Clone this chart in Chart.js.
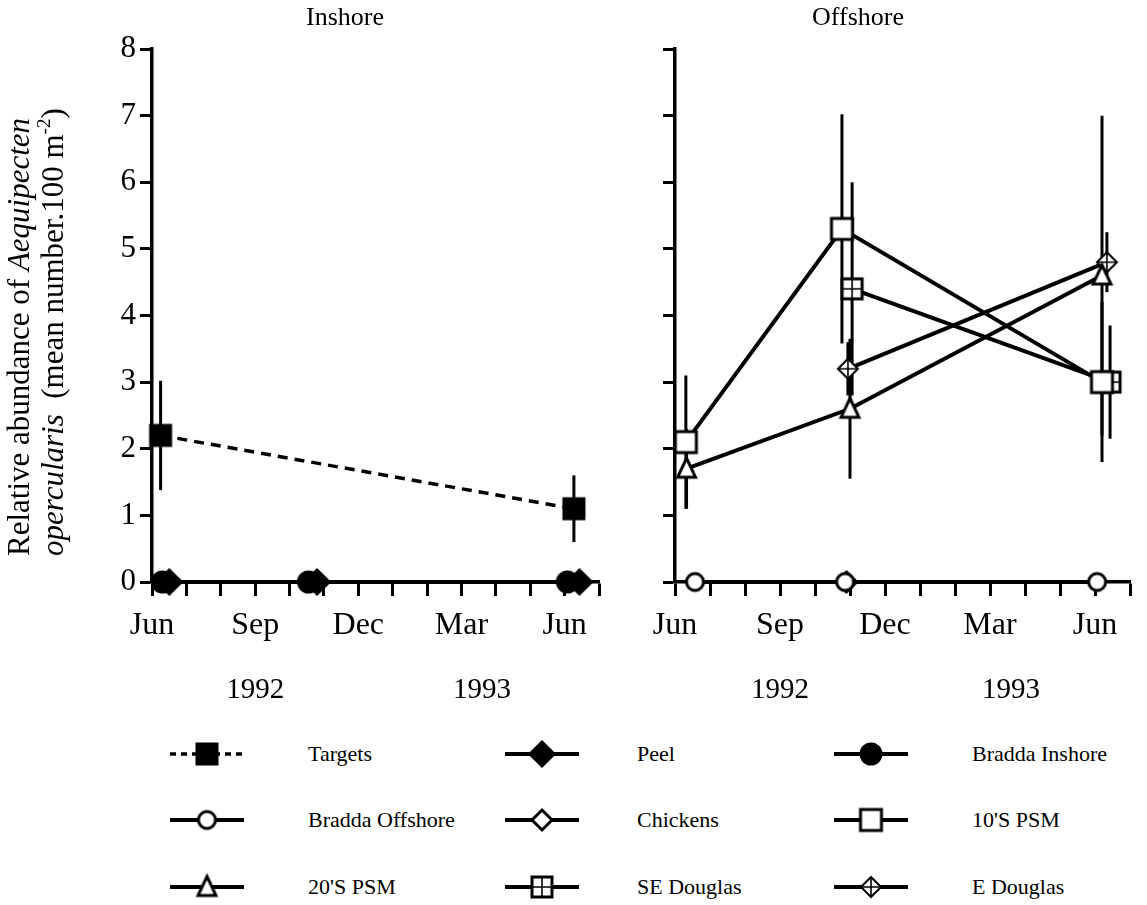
<!DOCTYPE html>
<html>
<head>
<meta charset="utf-8">
<title>Aequipecten opercularis abundance</title>
<script src="https://cdn.jsdelivr.net/npm/chart.js@4.4.1/dist/chart.umd.min.js"></script>
<style>
  html, body { margin: 0; padding: 0; background: #fff; }
  #page { position: relative; width: 1147px; height: 905px; overflow: hidden;
          font-family: 'Liberation Serif', 'Times New Roman', serif; color: #000; }
  #inshoreChart { position: absolute; left: 0; top: 0; }
  #offshoreChart { position: absolute; left: 610px; top: 0; }
  .leg-icon { position: absolute; }
  .leg-text { position: absolute; font-size: 22px; line-height: 26px; white-space: nowrap; }
</style>
</head>
<body>
<div id="page">
  <canvas id="inshoreChart" width="615" height="720"></canvas>
  <canvas id="offshoreChart" width="537" height="720"></canvas>
  <div id="legend"></div>
</div>
<script>
// ---- axis labels ----
// one entry per month tick, Jun 1992 (0) .. Jul 1993 (13)
const monthTickLabels = ['Jun', '', '', 'Sep', '', '', 'Dec', '', '', 'Mar', '', '', 'Jun', ''];
const yearLabels = ['1992', '1993'];
const yearPositions = [3, 9.6];
const abundanceTicks = [0, 1, 2, 3, 4, 5, 6, 7, 8];

// ---- inshore sites (x = months since Jun 1992) ----
const targetsMonths = [0.25, 12.27];
const targetsMean = [2.2, 1.1];
const targetsSE = [0.82, 0.5];

const peelMonths = [0.5, 4.8, 12.43];
const peelMean = [0, 0, 0];

const braddaInMonths = [0.3, 4.55, 12.08];
const braddaInMean = [0, 0, 0];

// ---- offshore sites ----
const braddaOffMonths = [0.57, 4.86, 12.06];
const braddaOffMean = [0, 0, 0];

const chickensMonths = [4.9];
const chickensMean = [0];

const psm10Months = [0.31, 4.77, 12.2];
const psm10Mean = [2.1, 5.3, 3.0];
const psm10SE = [1.0, 1.72, 1.2];

const psm20Months = [0.33, 5.0, 12.2];
const psm20Mean = [1.7, 2.6, 4.6];
const psm20SE = [0.6, 1.05, 2.4];

const seDouglasMonths = [5.06, 12.43];
const seDouglasMean = [4.4, 3.0];
const seDouglasSE = [1.6, 0.85];

const eDouglasMonths = [4.94, 12.34];
const eDouglasMean = [3.2, 4.8];
const eDouglasSE = [0.4, 0.45];

const FONT = "'Liberation Serif', 'Times New Roman', serif";

function pts(xs, ys) {
    return xs.map((x, i) => ({ x: x, y: ys[i] }));
}

// small canvases used as point styles (and again in the legend)
function makeMarker(shape, filled, size, border) {
    const pad = 4;
    const c = document.createElement('canvas');
    c.width = c.height = size + pad * 2;
    const ctx = c.getContext('2d');
    const m = c.width / 2, h = size / 2;
    ctx.lineWidth = border || 3;
    ctx.strokeStyle = '#000';
    ctx.fillStyle = filled ? '#000' : '#fff';
    ctx.beginPath();
    if (shape === 'square' || shape === 'squarePlus') {
        ctx.rect(m - h, m - h, size, size);
    } else if (shape === 'diamond' || shape === 'diamondPlus') {
        ctx.moveTo(m, m - h); ctx.lineTo(m + h, m); ctx.lineTo(m, m + h); ctx.lineTo(m - h, m);
        ctx.closePath();
    } else if (shape === 'circle') {
        ctx.arc(m, m, h, 0, Math.PI * 2);
    } else if (shape === 'triangle') {
        ctx.moveTo(m, m - h); ctx.lineTo(m + h * 0.85, m + h * 0.8); ctx.lineTo(m - h * 0.85, m + h * 0.8);
        ctx.closePath();
    }
    ctx.fill();
    ctx.stroke();
    if (shape === 'squarePlus' || shape === 'diamondPlus') {
        ctx.lineWidth = 1.6;
        ctx.beginPath();
        ctx.moveTo(m, m - h); ctx.lineTo(m, m + h);
        ctx.moveTo(m - h, m); ctx.lineTo(m + h, m);
        ctx.stroke();
    }
    return c;
}

const markers = {
    targets: makeMarker('square', true, 20),
    peel: makeMarker('diamond', true, 24),
    braddaIn: makeMarker('circle', true, 20),
    braddaOff: makeMarker('circle', false, 17),
    chickens: makeMarker('diamond', false, 20),
    psm10: makeMarker('square', false, 21),
    psm20: makeMarker('triangle', false, 21),
    seDouglas: makeMarker('squarePlus', false, 20),
    eDouglas: makeMarker('diamondPlus', false, 20, 2)
};

function series(label, xs, ys, marker, extra) {
    return Object.assign({
        label: label,
        data: pts(xs, ys),
        borderColor: '#000',
        borderWidth: 4,
        pointStyle: marker,
        pointRadius: 12,
        pointHoverRadius: 12,
        fill: false,
        tension: 0,
        clip: false
    }, extra || {});
}

// vertical error bars, drawn under the lines and markers
const errorBars = {
    id: 'errorBars',
    beforeDatasetsDraw(chart) {
        const ctx = chart.ctx, xs = chart.scales.x, ys = chart.scales.y;
        ctx.save();
        ctx.strokeStyle = '#000';
        ctx.lineWidth = 3;
        chart.data.datasets.forEach(ds => {
            if (!ds.errors) return;
            ds.data.forEach((p, i) => {
                const e = ds.errors[i];
                const x = xs.getPixelForValue(p.x);
                ctx.beginPath();
                ctx.moveTo(x, ys.getPixelForValue(p.y + e));
                ctx.lineTo(x, ys.getPixelForValue(p.y - e));
                ctx.stroke();
            });
        });
        ctx.restore();
    }
};

// panel title and year row under the month ticks
const panelText = {
    id: 'panelText',
    afterDraw(chart, args, opts) {
        const ctx = chart.ctx, xs = chart.scales.x;
        ctx.save();
        ctx.fillStyle = '#000';
        ctx.textAlign = 'center';
        ctx.textBaseline = 'middle';
        ctx.font = '26px ' + FONT;
        ctx.fillText(opts.title, opts.titleX, 18);
        ctx.font = '29px ' + FONT;
        yearLabels.forEach((t, i) => ctx.fillText(t, xs.getPixelForValue(yearPositions[i]), 690));
        ctx.restore();
    }
};

// rotated y axis title with italic species name and superscript
const yTitleLines = [
    [['Relative abundance of ', ''], ['Aequipecten', 'italic']],
    [['opercularis', 'italic'], ['  (mean number.100 m', ''], ['-2', 'sup'], [')', '']]
];
const yTitle = {
    id: 'yTitle',
    afterDraw(chart) {
        const ctx = chart.ctx;
        const lineX = [21, 55];
        yTitleLines.forEach((segs, li) => {
            ctx.save();
            ctx.translate(lineX[li], 556);
            ctx.rotate(-Math.PI / 2);
            ctx.fillStyle = '#000';
            ctx.textBaseline = 'middle';
            ctx.textAlign = 'left';
            let x = 0;
            segs.forEach(([t, style]) => {
                let dy = 0;
                if (style === 'italic') ctx.font = 'italic 31px ' + FONT;
                else if (style === 'sup') { ctx.font = '19px ' + FONT; dy = -10; }
                else ctx.font = '31px ' + FONT;
                ctx.fillText(t, x, dy);
                x += ctx.measureText(t).width;
            });
            ctx.restore();
        });
    }
};

function panelOptions(showYLabels, yAxisWidth, rightPad, title, titleX) {
    return {
        responsive: false,
        animation: false,
        layout: { padding: { top: 49, right: rightPad, bottom: 0, left: 0 } },
        plugins: {
            legend: { display: false },
            tooltip: { enabled: false },
            panelText: { title: title, titleX: titleX }
        },
        scales: {
            x: {
                type: 'linear',
                min: 0,
                max: 13,
                afterBuildTicks: s => { s.ticks = monthTickLabels.map((_, i) => ({ value: i })); },
                afterFit: s => { s.height = 720 - 582; },
                ticks: {
                    autoSkip: false,
                    maxRotation: 0,
                    padding: 10,
                    color: '#000',
                    font: { family: FONT, size: 32 },
                    callback: v => monthTickLabels[v]
                },
                grid: { drawOnChartArea: false, drawTicks: true, tickLength: 14, tickWidth: 3, tickColor: '#000' },
                border: { display: true, width: 3.5, color: '#000' }
            },
            y: {
                min: 0,
                max: 8,
                afterBuildTicks: s => { s.ticks = abundanceTicks.map(v => ({ value: v })); },
                afterFit: s => { s.width = yAxisWidth; },
                ticks: {
                    padding: 4,
                    color: '#000',
                    font: { family: FONT, size: 31 },
                    callback: v => showYLabels ? String(v) : ''
                },
                grid: { drawOnChartArea: false, drawTicks: true, tickLength: 12, tickWidth: 3, tickColor: '#000' },
                border: { display: true, width: 3.5, color: '#000' }
            }
        }
    };
}

new Chart(document.getElementById('inshoreChart'), {
    type: 'line',
    data: {
        datasets: [
            series('Targets', targetsMonths, targetsMean, markers.targets,
                { borderDash: [10, 7], borderWidth: 3.5, errors: targetsSE }),
            series('Peel', peelMonths, peelMean, markers.peel),
            series('Bradda Inshore', braddaInMonths, braddaInMean, markers.braddaIn)
        ]
    },
    options: panelOptions(true, 152, 14, 'Inshore', 345),
    plugins: [errorBars, panelText, yTitle]
});

new Chart(document.getElementById('offshoreChart'), {
    type: 'line',
    data: {
        datasets: [
            series('Bradda Offshore', braddaOffMonths, braddaOffMean, markers.braddaOff),
            series('Chickens', chickensMonths, chickensMean, markers.chickens),
            series("10'S PSM", psm10Months, psm10Mean, markers.psm10, { errors: psm10SE }),
            series("20'S PSM", psm20Months, psm20Mean, markers.psm20, { errors: psm20SE }),
            series('SE Douglas', seDouglasMonths, seDouglasMean, markers.seDouglas, { errors: seDouglasSE }),
            series('E Douglas', eDouglasMonths, eDouglasMean, markers.eDouglas, { errors: eDouglasSE })
        ]
    },
    options: panelOptions(false, 65, 17, 'Offshore', 248),
    plugins: [errorBars, panelText]
});

// ---- legend: 3 x 3 grid under both panels ----
const legendLabels = ['Targets', 'Peel', 'Bradda Inshore',
                      'Bradda Offshore', 'Chickens', "10'S PSM",
                      "20'S PSM", 'SE Douglas', 'E Douglas'];
const legendMarkers = [markers.targets, markers.peel, markers.braddaIn,
                       markers.braddaOff, markers.chickens, markers.psm10,
                       markers.psm20, markers.seDouglas, markers.eDouglas];
const legendIconX = [168, 503, 832];
const legendTextX = [308, 637, 972];
const legendRowY = [754, 820, 887];

const legendEl = document.getElementById('legend');
legendLabels.forEach((label, i) => {
    const col = i % 3, row = Math.floor(i / 3);
    const icon = document.createElement('canvas');
    icon.className = 'leg-icon';
    icon.width = 78; icon.height = 32;
    icon.style.left = legendIconX[col] + 'px';
    icon.style.top = (legendRowY[row] - 16) + 'px';
    const ctx = icon.getContext('2d');
    ctx.strokeStyle = '#000';
    ctx.lineWidth = 4;
    if (i === 0) { ctx.setLineDash([6, 5]); ctx.lineWidth = 3.5; }
    ctx.beginPath();
    ctx.moveTo(2, 16); ctx.lineTo(76, 16);
    ctx.stroke();
    const mk = legendMarkers[i];
    ctx.drawImage(mk, 39 - mk.width / 2, 16 - mk.height / 2);
    legendEl.appendChild(icon);

    const txt = document.createElement('div');
    txt.className = 'leg-text';
    txt.textContent = label;
    txt.style.left = legendTextX[col] + 'px';
    txt.style.top = (legendRowY[row] - 13) + 'px';
    legendEl.appendChild(txt);
});
</script>
</body>
</html>
